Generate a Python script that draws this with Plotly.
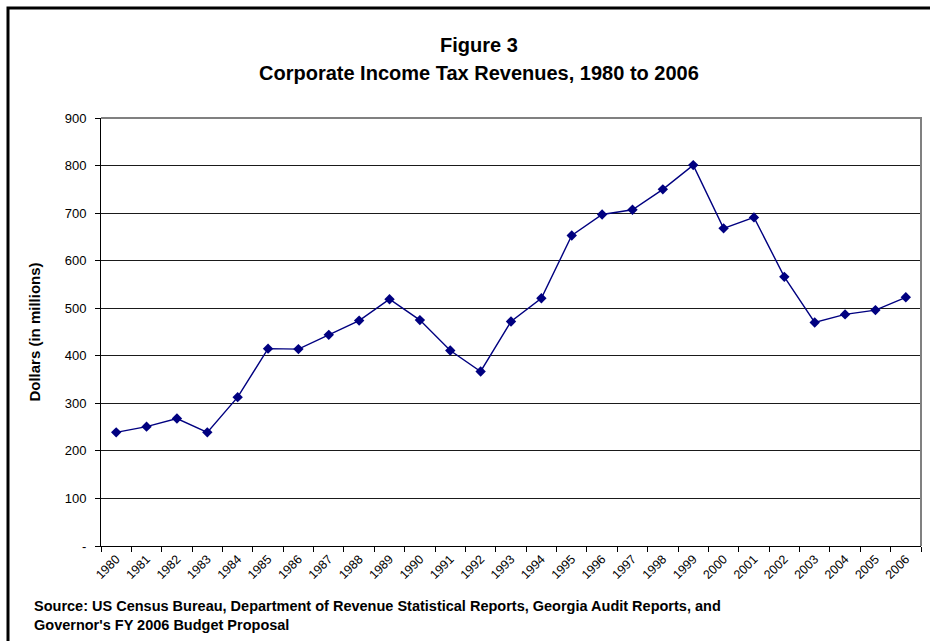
import plotly.graph_objects as go

years = [str(y) for y in range(1980, 2007)]
revenues = [239, 251, 268, 239, 313, 415, 414, 444, 474, 519, 475, 411, 367,
            472, 521, 653, 697, 707, 750, 801, 668, 691, 566, 470, 487, 496, 523]
y_tick_vals = [0, 100, 200, 300, 400, 500, 600, 700, 800, 900]
y_tick_text = ["-", "100", "200", "300", "400", "500", "600", "700", "800", "900"]

W, H = 930, 641
L, R, T, B = 101, 9, 118, 95
pw, ph = W - L - R, H - T - B


def px_x(px):
    return (px - L) / pw


def px_y(py):
    return (H - B - py) / ph


fig = go.Figure()
fig.add_trace(go.Scatter(
    x=years, y=revenues, mode="lines+markers",
    line=dict(color="#000080", width=1.4),
    marker=dict(symbol="diamond", size=8, color="#000080"),
    showlegend=False, hoverinfo="x+y",
))

font = "Liberation Sans, Arial, sans-serif"

fig.update_layout(
    width=W, height=H,
    margin=dict(l=L, r=R, t=T, b=B),
    paper_bgcolor="white", plot_bgcolor="white",
    font=dict(family=font, size=13, color="black"),
    xaxis=dict(
        type="category", range=[-0.5, 26.5],
        tickson="boundaries", ticks="outside", ticklen=5, tickcolor="black",
        showline=True, linecolor="black", linewidth=1,
        showgrid=False, tickangle=-45, tickfont=dict(size=12.5),
    ),
    yaxis=dict(
        range=[0, 900], tickvals=y_tick_vals, ticktext=y_tick_text,
        ticks="outside", ticklen=5, tickcolor="black",
        showline=True, linecolor="black", linewidth=1,
        showgrid=True, gridcolor="#1a1a1a", gridwidth=1, zeroline=False,
        tickfont=dict(size=13), ticklabelstandoff=6,
        title=dict(text="<b>Dollars (in millions)</b>", font=dict(size=15), standoff=20),
    ),
    shapes=[
        # outer frame
        dict(type="path", xref="paper", yref="paper",
             path=f"M {px_x(8)} {px_y(660)} L {px_x(8)} {px_y(8)} L {px_x(940)} {px_y(8)}",
             line=dict(color="black", width=3)),
        # plot area right and top border
        dict(type="path", xref="paper", yref="paper",
             path="M 0 1 L 1 1 L 1 0",
             line=dict(color="#808080", width=2)),
    ],
    annotations=[
        dict(text="<b>Figure 3</b>", xref="paper", yref="paper",
             x=px_x(479), y=px_y(45), xanchor="center", yanchor="middle",
             showarrow=False, font=dict(size=20)),
        dict(text="<b>Corporate Income Tax Revenues, 1980 to 2006</b>", xref="paper", yref="paper",
             x=px_x(479), y=px_y(73), xanchor="center", yanchor="middle",
             showarrow=False, font=dict(size=20)),
        dict(text="<b>Source: US Census Bureau, Department of Revenue Statistical Reports, Georgia Audit Reports, and</b>",
             xref="paper", yref="paper", x=px_x(32), y=px_y(606),
             xanchor="left", yanchor="middle", showarrow=False, font=dict(size=14.5)),
        dict(text="<b>Governor's FY 2006 Budget Proposal</b>",
             xref="paper", yref="paper", x=px_x(32), y=px_y(625),
             xanchor="left", yanchor="middle", showarrow=False, font=dict(size=14.5)),
    ],
)

fig.write_html("out.html")
